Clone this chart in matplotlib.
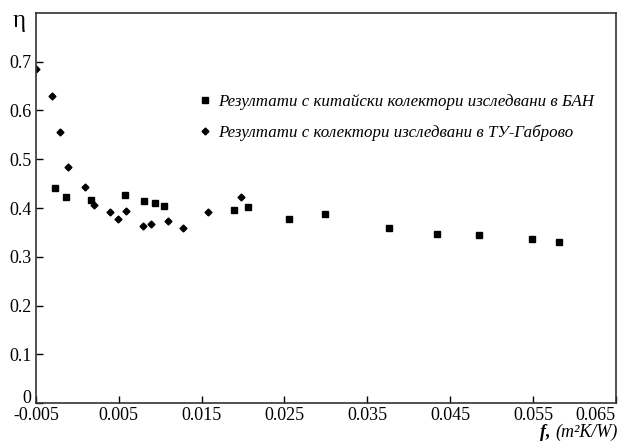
import matplotlib
matplotlib.use('Agg')
import matplotlib.pyplot as plt

plt.rcParams['font.family'] = ['Liberation Serif', 'DejaVu Serif']

# results BAN (squares)
ban_x = [-0.0027, -0.0014, 0.0017, 0.0058, 0.0081, 0.0094, 0.0105, 0.0189, 0.0206,
         0.0255, 0.0299, 0.0376, 0.0434, 0.0485, 0.0549, 0.0581]
ban_y = [0.441, 0.422, 0.417, 0.426, 0.414, 0.411, 0.405, 0.395, 0.402,
         0.378, 0.387, 0.359, 0.347, 0.344, 0.337, 0.331]

# results TU-Gabrovo (diamonds)
tu_x = [-0.0050, -0.0031, -0.0021, -0.0011, 0.0009, 0.0020, 0.0039, 0.0049, 0.0059,
        0.0079, 0.0089, 0.0109, 0.0128, 0.0158, 0.0198]
tu_y = [0.684, 0.629, 0.556, 0.485, 0.444, 0.407, 0.392, 0.378, 0.394,
        0.364, 0.367, 0.373, 0.359, 0.392, 0.422]

xticks = [-0.005, 0.005, 0.015, 0.025, 0.035, 0.045, 0.055, 0.065]
yticks = [0, 0.1, 0.2, 0.3, 0.4, 0.5, 0.6, 0.7]

fig = plt.figure(figsize=(6.19, 4.45), dpi=100)
ax = fig.add_axes([0.058, 0.094, 0.937, 0.877])

ax.plot(ban_x, ban_y, 's', color='black', markersize=5, linestyle='none',
        label='Резултати с китайски колектори изследвани в БАН')
ax.plot(tu_x, tu_y, 'D', color='black', markersize=3.5, linestyle='none',
        label='Резултати с колектори изследвани в ТУ-Габрово')

ax.set_xlim(-0.005, 0.065)
ax.set_ylim(0, 0.8)
ax.set_xticks(xticks)
ax.set_xticklabels(['-0.005', '0.005', '0.015', '0.025', '0.035', '0.045', '0.055', '0.065'])
ax.set_yticks(yticks)
ax.set_yticklabels(['0', '0.1', '0.2', '0.3', '0.4', '0.5', '0.6', '0.7'])
ax.tick_params(direction='in', length=5, width=1, labelsize=13, pad=3)
ax.get_xticklabels()[-1].set_ha('right')
ax.get_yticklabels()[0].set_va('baseline')
for s in ax.spines.values():
    s.set_linewidth(1.2)
    s.set_color('#333333')

leg = ax.legend(loc='upper left', bbox_to_anchor=(0.265, 0.81), frameon=False,
                prop={'style': 'italic', 'size': 12.2}, handletextpad=0.3,
                labelspacing=0.85, handlelength=1.0, borderaxespad=0)

fig.text(0.02, 0.952, 'η', fontsize=18, ha='left', va='center')
fig.text(0.998, 0.008, '(m²K/W)', fontsize=13, style='italic', ha='right', va='bottom')
fig.text(0.872, 0.008, 'f,', fontsize=13, style='italic', weight='bold', ha='left', va='bottom')

fig.savefig('out.png', dpi=100)
